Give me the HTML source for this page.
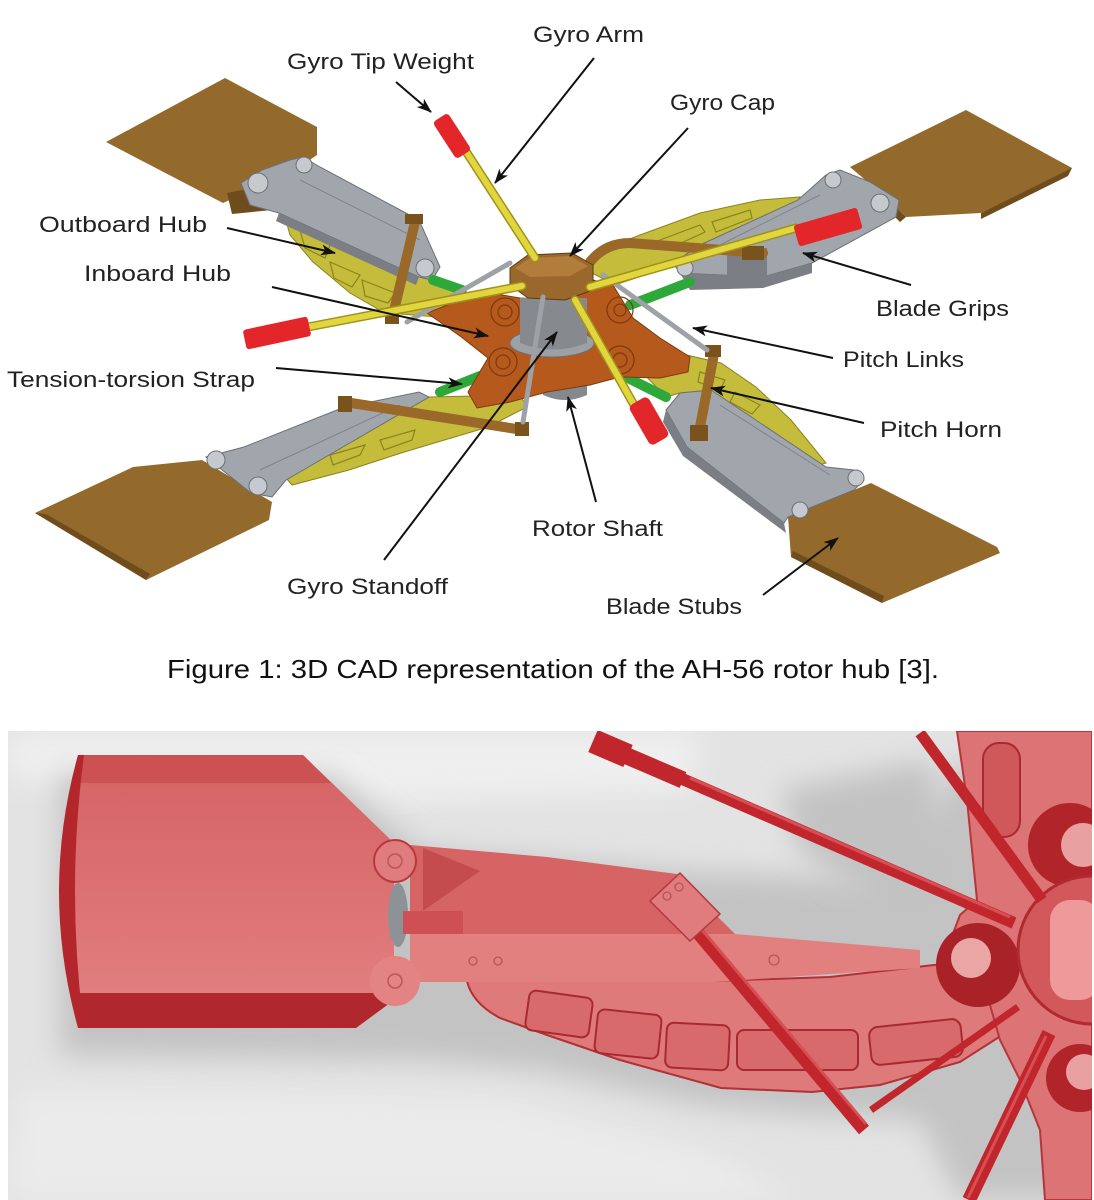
<!DOCTYPE html>
<html><head><meta charset="utf-8">
<style>
html,body{margin:0;padding:0;background:#fff;}
svg{display:block;}
text{font-family:"Liberation Sans",Arial,sans-serif;}
</style></head><body>
<svg width="1094" height="1200" viewBox="0 0 1094 1200" xmlns="http://www.w3.org/2000/svg">
<defs>
<marker id="ah" markerUnits="userSpaceOnUse" markerWidth="15" markerHeight="11" refX="14" refY="5.5" orient="auto" viewBox="0 0 15 11"><path d="M0,0 L15,5.5 L0,11 L4,5.5 z" fill="#111"/></marker>
<filter id="b14" x="-20%" y="-20%" width="140%" height="140%"><feGaussianBlur stdDeviation="14"/></filter>
<filter id="b8" x="-20%" y="-20%" width="140%" height="140%"><feGaussianBlur stdDeviation="8"/></filter>
<linearGradient id="bf" x1="0" y1="0" x2="0" y2="1">
<stop offset="0" stop-color="#d56263"/><stop offset="0.5" stop-color="#dc7172"/><stop offset="1" stop-color="#e38283"/></linearGradient>
<clipPath id="photo"><rect x="8" y="731" width="1084" height="469"/></clipPath>
</defs>
<rect width="1094" height="1200" fill="#fff"/>

<!-- ============ TOP DIAGRAM ============ -->
<!-- yellow flex beams -->
<g fill="#c4bc3a" stroke="#8a8420" stroke-width="1">
<path d="M283 210 L300 212 L340 232 L419 268 L450 285 L480 300 L450 318 L401 314 L383 312 L350 293 L313 262 L290 235 Z"/>
<path d="M592 253 L640 235 L700 213 L760 200 L800 197 L790 215 L720 240 L660 270 L615 285 L590 272 Z"/>
<path d="M286 478 L429 397 L520 395 L527 407 L488 427 L401 453 L349 470 L292 485 Z"/>
<path d="M634 340 L652 347 L721 363 L756 387 L791 420 L826 463 L812 467 L711 390 L680 393 L666 397 L640 370 Z"/>
</g>
<!-- slot hints on yellow -->
<g fill="none" stroke="#8a8420" stroke-width="1.2">
<path d="M300 230 L330 245 L325 258 L305 248 Z"/><path d="M330 262 L360 275 L352 287 L334 278 Z"/><path d="M362 280 L395 293 L388 303 L365 296 Z"/>
<path d="M660 240 L700 225 L705 232 L666 250 Z"/><path d="M712 222 L750 210 L752 218 L716 232 Z"/>
<path d="M700 372 L725 380 L720 390 L698 382 Z"/><path d="M735 392 L760 405 L752 414 L730 402 Z"/>
<path d="M330 455 L365 445 L360 455 L333 465 Z"/><path d="M380 440 L415 430 L412 440 L384 450 Z"/>
</g>

<!-- blades -->
<g fill="#94692c">
<path d="M106 142 L225 78 L317 127 L317 155 L290 173 L223 203 Z"/>
<path d="M850 167 L966 110 L1072 168 L1068 172 L981 213 L906 217 L889 200 Z"/>
<path d="M35 513 L133 467 L202 460 L272 502 L269 520 L146 580 Z"/>
<path d="M788 517 L871 483 L997 547 L1000 553 L882 603 L791 557 Z"/>
</g>
<g fill="#6f4c1b">
<path d="M35 513 L146 580 L150 574 L46 514 Z"/>
<path d="M1072 168 L981 213 L981 219 L1068 176 Z"/>
<path d="M791 557 L882 603 L884 596 L793 551 Z"/>
<path d="M227 193 L262 186 L272 210 L232 214 Z"/>
<path d="M889 200 L906 217 L900 222 L884 206 Z"/>
</g>

<!-- grips -->
<g fill="#a1a6ad" stroke="#6c7076" stroke-width="1">
<path d="M241 183 L262 170 L290 160 L303 157 L320 167 L419 220 L440 267 L432 280 L419 277 L279 213 L250 205 Z"/>
<path d="M826 175 L840 170 L870 182 L899 200 L896 217 L812 263 L763 277 L680 273 L673 263 L700 245 L798 200 Z"/>
<path d="M206 457 L244 447 L342 408 L419 392 L429 397 L286 480 L272 497 L251 493 Z"/>
<path d="M666 410 L680 393 L711 390 L826 467 L854 470 L864 480 L854 490 L812 507 L788 517 L784 523 L687 447 Z"/>
</g>
<g fill="#7b7f85">
<path d="M279 213 L419 277 L416 285 L276 221 Z"/>
<path d="M680 273 L763 277 L812 263 L812 273 L763 288 L690 290 Z"/>
<path d="M727 250 L767 248 L767 280 L727 282 Z"/>
<path d="M666 410 L687 447 L784 523 L786 533 L683 456 L663 422 Z"/>
</g>
<g fill="#c6c9cd" stroke="#6c7076" stroke-width="1">
<circle cx="258" cy="183" r="10"/><circle cx="304" cy="165" r="8"/><circle cx="425" cy="268" r="9"/>
<circle cx="833" cy="180" r="8"/><circle cx="880" cy="203" r="9"/><circle cx="685" cy="268" r="8"/>
<circle cx="216" cy="460" r="9"/><circle cx="258" cy="486" r="9"/>
<circle cx="856" cy="478" r="8"/><circle cx="800" cy="510" r="8"/>
</g>
<g stroke="#80848a" stroke-width="1" fill="none">
<path d="M300 180 L420 240"/><path d="M820 195 L720 245"/><path d="M260 470 L400 405"/><path d="M720 405 L830 475"/>
</g>

<!-- green straps -->
<g stroke="#2fa83a" stroke-width="10" stroke-linecap="round">
<line x1="433" y1="280" x2="462" y2="290"/>
<line x1="630" y1="305" x2="690" y2="282"/>
<line x1="440" y1="392" x2="480" y2="376"/>
<line x1="624" y1="376" x2="666" y2="397"/>
</g>

<!-- lower shaft -->
<path d="M543 378 L587 378 L587 395 Q565 405 543 395 Z" fill="#85898e"/>

<!-- orange hub -->
<path d="M427 313 L455 302 L490 293 L520 298 L567 300 L593 280 L613 285 L633 318 L660 338 L690 357 L688 372 L660 378 L620 377 L590 385 L547 392 L510 402 L477 408 L468 392 L488 358 L460 336 Z" fill="#b5591d" stroke="#7d3a0e" stroke-width="1"/>
<g fill="none" stroke="#7d3a0e" stroke-width="1.2">
<circle cx="505" cy="312" r="14"/><circle cx="505" cy="312" r="7"/>
<circle cx="620" cy="310" r="13"/><circle cx="620" cy="310" r="6"/>
<circle cx="503" cy="362" r="14"/><circle cx="503" cy="362" r="7"/>
<circle cx="620" cy="360" r="14"/><circle cx="620" cy="360" r="7"/>
</g>
<!-- shaft & flange -->
<ellipse cx="552" cy="343" rx="42" ry="14" fill="#9ca1a6" stroke="#6c7076"/>
<path d="M520 298 L520 343 Q553 356 587 343 L587 298 Z" fill="#868a8f"/>

<!-- brown pitch horn rods -->
<g stroke="#9a6828" stroke-width="10" stroke-linecap="round" fill="none">
<line x1="415" y1="222" x2="393" y2="315"/>
<line x1="345" y1="402" x2="523" y2="430"/>
<path d="M590 262 Q605 243 630 243 L763 253"/>
<line x1="714" y1="354" x2="699" y2="432"/>
</g>
<g fill="#7a521c">
<rect x="405" y="214" width="18" height="10"/><rect x="385" y="310" width="14" height="14"/>
<rect x="338" y="396" width="14" height="16"/><rect x="515" y="422" width="14" height="14"/>
<rect x="690" y="425" width="18" height="16"/><rect x="705" y="345" width="16" height="12"/>
<rect x="742" y="246" width="22" height="14"/>
</g>

<!-- gyro cap -->
<path d="M510 268 L528 255 L572 253 L593 265 L593 290 L565 300 L528 298 L510 285 Z" fill="#9a682c" stroke="#5c3c12" stroke-width="1"/>
<path d="M515 268 L530 258 L570 256 L588 266 L570 276 L530 277 Z" fill="#b27c3a"/>

<!-- gray rods -->
<g stroke="#9ea2a7" stroke-width="5" stroke-linecap="round">
<line x1="407" y1="322" x2="510" y2="263"/>
<line x1="603" y1="275" x2="707" y2="350"/>
<line x1="543" y1="297" x2="523" y2="422"/>
</g>

<!-- yellow gyro arms -->
<g stroke="#a0921c" stroke-width="9" stroke-linecap="round">
<line x1="467" y1="153" x2="535" y2="258"/>
<line x1="308" y1="327" x2="522" y2="286"/>
<line x1="590" y1="287" x2="796" y2="228"/>
<line x1="575" y1="300" x2="634" y2="405"/>
</g>
<g stroke="#e2d63e" stroke-width="6" stroke-linecap="round">
<line x1="467" y1="153" x2="535" y2="258"/>
<line x1="308" y1="327" x2="522" y2="286"/>
<line x1="590" y1="287" x2="796" y2="228"/>
<line x1="575" y1="300" x2="634" y2="405"/>
</g>
<!-- red tips -->
<g fill="#e3262a">
<rect x="-22" y="-9" width="44" height="18" rx="4" transform="translate(452,136) rotate(57)"/>
<rect x="-33" y="-10" width="66" height="20" rx="3" transform="translate(277,333) rotate(-12)"/>
<rect x="-33" y="-11" width="66" height="22" rx="3" transform="translate(828,227) rotate(-16)"/>
<rect x="-23" y="-11" width="46" height="22" rx="5" transform="translate(649,421) rotate(60)"/>
</g>

<!-- labels -->
<g font-size="22" fill="#222">
<text x="533" y="42" textLength="111" lengthAdjust="spacingAndGlyphs">Gyro Arm</text>
<text x="287" y="69" textLength="187" lengthAdjust="spacingAndGlyphs">Gyro Tip Weight</text>
<text x="670" y="110" textLength="105" lengthAdjust="spacingAndGlyphs">Gyro Cap</text>
<text x="39" y="232" textLength="168" lengthAdjust="spacingAndGlyphs">Outboard Hub</text>
<text x="84" y="281" textLength="147" lengthAdjust="spacingAndGlyphs">Inboard Hub</text>
<text x="876" y="316" textLength="133" lengthAdjust="spacingAndGlyphs">Blade Grips</text>
<text x="843" y="367" textLength="121" lengthAdjust="spacingAndGlyphs">Pitch Links</text>
<text x="7" y="387" textLength="248" lengthAdjust="spacingAndGlyphs">Tension-torsion Strap</text>
<text x="880" y="437" textLength="122" lengthAdjust="spacingAndGlyphs">Pitch Horn</text>
<text x="532" y="536" textLength="131" lengthAdjust="spacingAndGlyphs">Rotor Shaft</text>
<text x="287" y="594" textLength="161" lengthAdjust="spacingAndGlyphs">Gyro Standoff</text>
<text x="606" y="614" textLength="136" lengthAdjust="spacingAndGlyphs">Blade Stubs</text>
</g>

<!-- leader arrows -->
<g stroke="#111" stroke-width="2" fill="none" marker-end="url(#ah)">
<line x1="396" y1="82" x2="431" y2="112"/>
<line x1="594" y1="58" x2="495" y2="183"/>
<line x1="688" y1="128" x2="570" y2="256"/>
<line x1="227" y1="228" x2="335" y2="253"/>
<line x1="272" y1="287" x2="488" y2="336"/>
<line x1="276" y1="368" x2="462" y2="384"/>
<line x1="384" y1="560" x2="557" y2="332"/>
<line x1="596" y1="502" x2="568" y2="397"/>
<line x1="911" y1="285" x2="803" y2="253"/>
<line x1="833" y1="358" x2="693" y2="328"/>
<line x1="864" y1="423" x2="711" y2="388"/>
<line x1="763" y1="595" x2="838" y2="538"/>
</g>

<!-- caption -->
<text x="167" y="678" font-size="26" fill="#111" textLength="772" lengthAdjust="spacingAndGlyphs">Figure 1: 3D CAD representation of the AH-56 rotor hub [3].</text>

<!-- ============ BOTTOM PHOTO ============ -->
<g clip-path="url(#photo)">
<rect x="8" y="731" width="1084" height="469" fill="#e3e3e3"/>
<path d="M8 731 L700 731 L690 790 L400 800 L8 780 Z" fill="#efefef" filter="url(#b14)"/>
<path d="M20 1090 L500 1100 L700 1150 L800 1200 L8 1200 Z" fill="#ebebeb" filter="url(#b14)"/>
<!-- shadows -->
<path d="M60 775 L330 775 L420 850 L700 872 L880 880 L940 800 L960 760 L1092 760 L1092 1200 L960 1200 L920 1120 L800 1115 L700 1105 L540 1070 L420 1060 L60 1055 Z" fill="#c3c3c3" filter="url(#b14)"/>
<path d="M780 790 L930 760 L960 900 L900 920 L800 850 Z" fill="#c2c2c2" filter="url(#b14)"/>

<!-- blade -->
<path d="M78 755 L303 755 L394 843 L394 1000 L356 1028 L78 1028 Q56 891 78 755 Z" fill="url(#bf)"/>
<path d="M78 755 L303 755 L331 783 L78 783 Z" fill="#cc5153"/>
<path d="M78 993 L394 993 L394 1000 L356 1028 L78 1028 Z" fill="#b0282d"/>
<path d="M78 755 Q40 891 78 1028 L84 1028 Q66 891 84 755 Z" fill="#b3262b"/>

<!-- grip -->
<ellipse cx="398" cy="915" rx="10" ry="32" fill="#8d9296"/>
<path d="M410 845 L547 857 L677 874 L718 917 L735 934 L410 934 Z" fill="#d66465"/>
<path d="M423 848 L480 871 L423 911 Z" fill="#c44b4e"/>
<path d="M403 911 L463 911 L463 934 L403 934 Z" fill="#cf5054"/>
<!-- beam -->
<path d="M467 981 L714 981 L830 977 L960 962 L1000 990 L1010 1030 L960 1062 L880 1085 L812 1092 L721 1088 L620 1060 L547 1035 L500 1018 Q472 1003 467 981 Z" fill="#df7a7b" stroke="#b33036" stroke-width="2"/>
<g fill="#d86a6b" stroke="#a82a30" stroke-width="2">
<rect x="527" y="994" width="64" height="40" rx="7" transform="rotate(8 559 1014)"/>
<rect x="596" y="1012" width="64" height="44" rx="7" transform="rotate(6 628 1034)"/>
<rect x="666" y="1024" width="63" height="45" rx="7" transform="rotate(3 698 1046)"/>
<rect x="737" y="1030" width="121" height="40" rx="7"/>
<rect x="870" y="1023" width="92" height="38" rx="9" transform="rotate(-6 916 1042)"/>
</g>
<!-- lower bar -->
<path d="M410 934 L735 934 L920 950 L920 968 L714 982 L410 982 Z" fill="#e2807f"/>
<g fill="none" stroke="#b85456" stroke-width="1.3">
<circle cx="473" cy="961" r="4"/><circle cx="498" cy="961" r="4"/><circle cx="774" cy="960" r="5"/>
</g>
<!-- lugs -->
<circle cx="395" cy="861" r="21" fill="#e07c7d" stroke="#b8383c" stroke-width="2"/>
<circle cx="395" cy="981" r="25" fill="#e38384"/>
<g fill="none" stroke="#bb5557" stroke-width="1.5"><circle cx="395" cy="861" r="7"/><circle cx="395" cy="981" r="7"/></g>

<!-- hub region -->
<path d="M957 731 L1092 731 L1092 1200 L1045 1200 L1040 1130 L1020 1080 L1000 1040 L990 1005 L960 980 L945 955 L960 915 L977 900 L967 800 Z" fill="#dc7374" stroke="#b8363b" stroke-width="2"/>
<rect x="983" y="743" width="37" height="94" rx="16" fill="#d0585a" stroke="#a82a30" stroke-width="2"/>
<circle cx="1070" cy="845" r="42" fill="#b0242a"/>
<circle cx="1083" cy="845" r="22" fill="#e9a0a0"/>
<circle cx="978" cy="965" r="42" fill="#a82228"/>
<circle cx="971" cy="958" r="20" fill="#eaa5a5"/>
<circle cx="1080" cy="1078" r="34" fill="#b0242a"/>
<circle cx="1084" cy="1072" r="18" fill="#e9a0a0"/>
<circle cx="1092" cy="950" r="74" fill="#d3585b" stroke="#b02a30" stroke-width="3"/>
<rect x="1050" y="900" width="50" height="100" rx="20" fill="#ee9a9a"/>

<!-- rods -->
<g stroke="#c0262c" stroke-linecap="butt">
<line x1="920" y1="733" x2="1042" y2="900" stroke-width="11"/>
<line x1="680" y1="778" x2="1014" y2="923" stroke-width="12"/>
<line x1="627" y1="756" x2="683" y2="780" stroke-width="17"/>
<line x1="593" y1="741" x2="628" y2="756" stroke-width="24"/>
<line x1="871" y1="1110" x2="1018" y2="1007" stroke-width="7"/>
<line x1="1049" y1="1033" x2="969" y2="1200" stroke-width="14"/>
<line x1="693" y1="927" x2="864" y2="1130" stroke-width="13"/>
</g>
<g stroke="#dd5a5e" stroke-width="3" opacity="0.8">
<line x1="690" y1="778" x2="1010" y2="917"/>
<line x1="697" y1="924" x2="866" y2="1124"/>
<line x1="1046" y1="1036" x2="968" y2="1198"/>
</g>
<path d="M650 901 L680 873 L720 914 L690 941 Z" fill="#e07c7d" stroke="#b23a3e" stroke-width="1.5"/>
<g fill="none" stroke="#b85456" stroke-width="1.3"><circle cx="667" cy="896" r="4"/><circle cx="679" cy="887" r="4"/></g>
</g>
</svg>
</body></html>
